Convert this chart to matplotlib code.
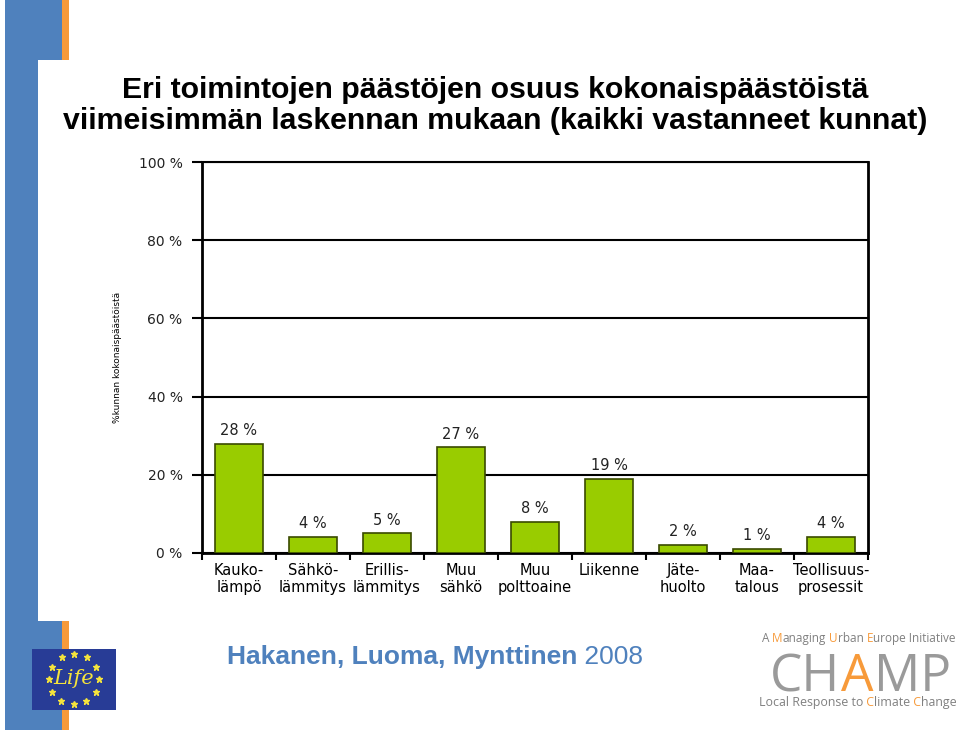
import numpy as np
import matplotlib
matplotlib.use("Agg")
import matplotlib.pyplot as plt
from matplotlib.patches import Rectangle

categories = ["Kauko-\nlämpö", "Sähkö-\nlämmitys", "Erillis-\nlämmitys", "Muu\nsähkö",
              "Muu\npolttoaine", "Liikenne", "Jäte-\nhuolto", "Maa-\ntalous", "Teollisuus-\nprosessit"]
osuus = [28, 4, 5, 27, 8, 19, 2, 1, 4]
yticks = [0, 20, 40, 60, 80, 100]

blue = "#4F81BD"
orange = "#F79A3A"

fig = plt.figure(figsize=(9.6, 7.32), dpi=100)


def chain_text(x0, y, parts, gap=0, **kw):
    # parts: list of (string, color); each part starts where the previous one ends
    t = fig.text(x0, y, parts[0][0], color=parts[0][1], va="bottom", **kw)
    for s, c in parts[1:]:
        t = plt.annotate(s, xy=(1, 0), xycoords=t, xytext=(gap, 0), textcoords="offset points",
                         va="bottom", ha="left", color=c, annotation_clip=False, **kw)
    return t


# slide decoration
fig.add_artist(Rectangle((5/960, 1-60/732), 57/960, 60/732, transform=fig.transFigure, color=blue, lw=0))
fig.add_artist(Rectangle((62/960, 1-60/732), 7/960, 60/732, transform=fig.transFigure, color=orange, lw=0))
fig.add_artist(Rectangle((5/960, 1-621/732), 33/960, 561/732, transform=fig.transFigure, color=blue, lw=0))
fig.add_artist(Rectangle((5/960, 1-730/732), 57/960, 109/732, transform=fig.transFigure, color=blue, lw=0))
fig.add_artist(Rectangle((62/960, 1-730/732), 7/960, 109/732, transform=fig.transFigure, color=orange, lw=0))

# EU Life logo
fig.add_artist(Rectangle((32/960, 1-710/732), 84/960, 61/732, transform=fig.transFigure, color="#283C96", lw=0))
ang = np.linspace(0, 2*np.pi, 13)[:-1]
cx, cy = 74/960, 1-679/732
fig.add_artist(plt.Line2D(cx + 25/960*np.cos(ang), cy + 25/732*np.sin(ang), transform=fig.transFigure,
                          ls="none", marker="*", ms=5, color="#F5E43C"))
fig.text(cx, cy, "Life", ha="center", va="center",
         fontsize=15, style="italic", color="#F5E43C", family="DejaVu Serif")

# title
fig.text(0.516, 1-90/732, "Eri toimintojen päästöjen osuus kokonaispäästöistä", ha="center", va="center",
         fontsize=21.8, fontweight="bold", family="Liberation Sans")
fig.text(0.516, 1-121/732, "viimeisimmän laskennan mukaan (kaikki vastanneet kunnat)", ha="center", va="center",
         fontsize=21.8, fontweight="bold", family="Liberation Sans")

ax = fig.add_axes([202/960, 1-553/732, 666/960, 391/732])
x = np.arange(len(categories))
ax.bar(x, osuus, width=0.66, color="#99CC00", edgecolor="#3A4A00", linewidth=1.2, zorder=3)
for xi, v in zip(x, osuus):
    ax.text(xi, v + 1.5, f"{v} %", ha="center", va="bottom", fontsize=10.5, color="#222222")

ax.set_xlim(-0.5, len(categories) - 0.5)
ax.set_ylim(0, 100)
ax.set_yticks(yticks)
ax.set_yticklabels([f"{t} %" for t in yticks], fontsize=10, color="#222222")
ax.yaxis.grid(True, color="black", lw=1.5)
ax.set_axisbelow(True)
ax.tick_params(axis="y", length=7, width=1.5, pad=7)
ax.set_xticks(x)
ax.set_xticklabels(categories, fontsize=10.5, linespacing=1.2)
ax.tick_params(axis="x", length=0, pad=7)
ax.set_xticks(np.arange(len(categories) + 1) - 0.5, minor=True)
ax.tick_params(axis="x", which="minor", length=5, width=1.5)
for s in ax.spines.values():
    s.set_linewidth(2)
ax.spines["top"].set_linewidth(1.5)
ax.set_ylabel("%kunnan kokonaispäästöistä", fontsize=6.5, labelpad=12)

# footer
foot_kw = dict(fontsize=19, family="Liberation Sans")
t = fig.text(227/960, 1-669/732, "Hakanen, Luoma, Mynttinen", fontweight="bold", color=blue,
             va="bottom", **foot_kw)
plt.annotate(" 2008", xy=(1, 0), xycoords=t, va="bottom", color=blue, annotation_clip=False, **foot_kw)

# CHAMP logo
logo_kw = dict(family="Open Sans")
chain_text(762/960, 1-645/732, [("A", "#808080"), (" M", orange), ("anaging", "#808080"), (" U", orange),
                                ("rban", "#808080"), (" E", orange), ("urope Initiative", "#808080")],
           fontsize=8.5, **logo_kw)
chain_text(770/960, 1-703/732, [("CH", "#9A9A9A"), ("A", orange), ("MP", "#9A9A9A")], gap=0.5,
           fontsize=37, **logo_kw)
chain_text(759/960, 1-709/732, [("Local Response to", "#808080"), (" C", orange), ("limate", "#808080"),
                                (" C", orange), ("hange", "#808080")],
           fontsize=8.9, **logo_kw)

fig.savefig("out.png", dpi=100)
